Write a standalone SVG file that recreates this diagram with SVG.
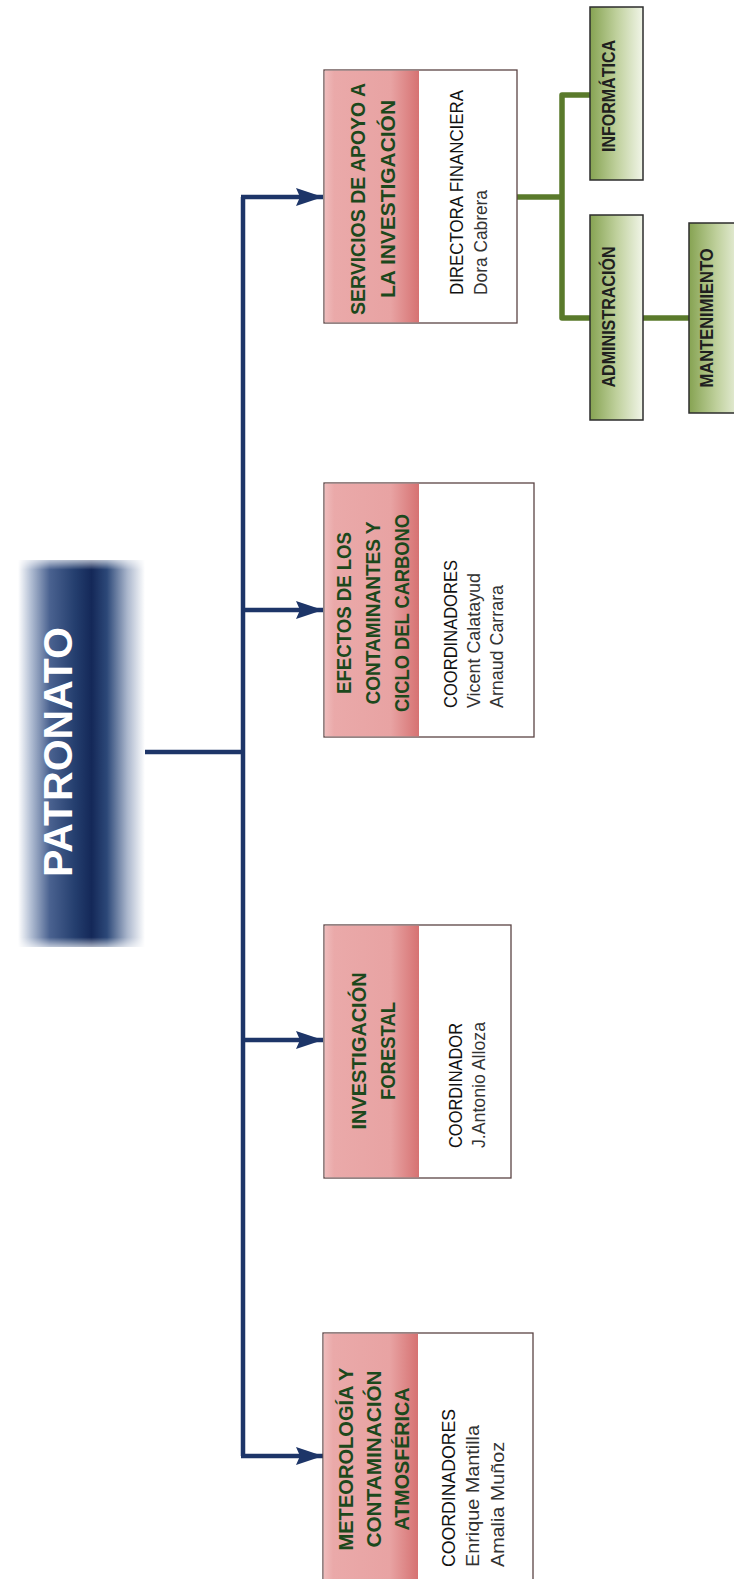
<svg xmlns="http://www.w3.org/2000/svg" width="734" height="1579" viewBox="0 0 734 1579">
<defs>
<linearGradient id="gPatr" x1="0" y1="0" x2="1" y2="0">
<stop offset="0" stop-color="#ffffff"/>
<stop offset="0.1" stop-color="#b3bfd4"/>
<stop offset="0.25" stop-color="#4a6290"/>
<stop offset="0.45" stop-color="#243e6e"/>
<stop offset="0.58" stop-color="#142858"/>
<stop offset="0.7" stop-color="#2c4878"/>
<stop offset="0.86" stop-color="#aab6cc"/>
<stop offset="1" stop-color="#ffffff"/>
</linearGradient>
<linearGradient id="gPatrV" x1="0" y1="0" x2="0" y2="1">
<stop offset="0" stop-color="#fff" stop-opacity="0.35"/>
<stop offset="0.025" stop-color="#fff" stop-opacity="1"/>
<stop offset="0.975" stop-color="#fff" stop-opacity="1"/>
<stop offset="1" stop-color="#fff" stop-opacity="0.35"/>
</linearGradient>
<mask id="mPatr" maskContentUnits="objectBoundingBox">
<rect x="0" y="0" width="1" height="1" fill="url(#gPatrV)"/>
</mask>
<linearGradient id="gHead" x1="0" y1="0" x2="1" y2="0">
<stop offset="0" stop-color="#efbcbc"/>
<stop offset="0.1" stop-color="#eaa9a9"/>
<stop offset="0.7" stop-color="#e8a3a3"/>
<stop offset="1" stop-color="#d67272"/>
</linearGradient>
<linearGradient id="gGreen" x1="0" y1="0" x2="1" y2="0">
<stop offset="0" stop-color="#86a352"/>
<stop offset="0.5" stop-color="#bfd09c"/>
<stop offset="1" stop-color="#f1f5e8"/>
</linearGradient>
<marker id="arr" markerUnits="userSpaceOnUse" markerWidth="28" markerHeight="18" refX="27" refY="9" orient="auto">
<path d="M0,0 L27,9 L0,18 L4,9 Z" fill="#1d3568"/>
</marker>
<style>
.nav{fill:none;stroke:#1d3568;stroke-width:4.5}
.grn{fill:none;stroke:#5a7a2b;stroke-width:5.5;stroke-linejoin:round}
.box{fill:#ffffff;stroke:#5b4444;stroke-width:1.3}
.head{fill:url(#gHead)}
.gbox{fill:url(#gGreen);stroke:#2d2d2d;stroke-width:1.5}
.ht{font-family:"Liberation Sans",Arial,sans-serif;font-weight:bold;font-size:21px;fill:#1c481c;text-anchor:middle}
.wt{font-family:"Liberation Sans",Arial,sans-serif;font-size:18px;fill:#111111;text-anchor:start}
.nm{fill:#333333}
.gt{font-family:"Liberation Sans",Arial,sans-serif;font-weight:bold;font-size:19px;fill:#1f1f1f;text-anchor:middle}
.pt{font-family:"Liberation Sans",Arial,sans-serif;font-weight:bold;font-size:40px;fill:#ffffff;text-anchor:middle}
</style>
</defs>
<rect width="734" height="1579" fill="#ffffff"/>

<g id="connectors">
<path class="nav" d="M145,752 H243"/>
<path class="nav" d="M243,197 V1456"/>
<path class="nav" d="M241,197 H323" marker-end="url(#arr)"/>
<path class="nav" d="M243,610 H323" marker-end="url(#arr)"/>
<path class="nav" d="M243,1040 H323" marker-end="url(#arr)"/>
<path class="nav" d="M241,1456 H323" marker-end="url(#arr)"/>
<path class="grn" d="M517,197 H562"/>
<path class="grn" d="M590,95 H562 V318 H590"/>
<path class="grn" d="M643,318 H689"/>
</g>

<g id="patronato">
<rect x="18" y="560" width="127" height="387" fill="url(#gPatr)" mask="url(#mPatr)"/>
<text class="pt" transform="translate(72,752) rotate(-90)" textLength="250" lengthAdjust="spacingAndGlyphs">PATRONATO</text>
</g>

<g id="servicios">
<rect class="box" x="324" y="70" width="193" height="253"/>
<rect class="head" x="324.7" y="70.7" width="94.3" height="251.6"/>
<text class="ht" transform="translate(365,199) rotate(-90)" textLength="232" lengthAdjust="spacingAndGlyphs">SERVICIOS DE APOYO A</text>
<text class="ht" transform="translate(395,199) rotate(-90)" textLength="198" lengthAdjust="spacingAndGlyphs">LA INVESTIGACIÓN</text>
<text class="wt" transform="translate(463,295) rotate(-90)" textLength="205" lengthAdjust="spacingAndGlyphs">DIRECTORA FINANCIERA</text>
<text class="wt nm" transform="translate(487,295) rotate(-90)" textLength="105" lengthAdjust="spacingAndGlyphs">Dora Cabrera</text>
</g>

<g id="efectos">
<rect class="box" x="324" y="483" width="210" height="254"/>
<rect class="head" x="324.7" y="483.7" width="94.3" height="252.6"/>
<text class="ht" transform="translate(351,613) rotate(-90)" textLength="162" lengthAdjust="spacingAndGlyphs">EFECTOS DE LOS</text>
<text class="ht" transform="translate(380,613) rotate(-90)" textLength="183" lengthAdjust="spacingAndGlyphs">CONTAMINANTES Y</text>
<text class="ht" transform="translate(409,613) rotate(-90)" textLength="198" lengthAdjust="spacingAndGlyphs">CICLO DEL CARBONO</text>
<text class="wt" transform="translate(457,708) rotate(-90)" textLength="148" lengthAdjust="spacingAndGlyphs">COORDINADORES</text>
<text class="wt nm" transform="translate(480,708) rotate(-90)" textLength="135" lengthAdjust="spacingAndGlyphs">Vicent Calatayud</text>
<text class="wt nm" transform="translate(503,708) rotate(-90)" textLength="123" lengthAdjust="spacingAndGlyphs">Arnaud Carrara</text>
</g>

<g id="investigacion">
<rect class="box" x="324" y="925" width="187" height="253"/>
<rect class="head" x="324.7" y="925.7" width="94.3" height="251.6"/>
<text class="ht" transform="translate(366,1051) rotate(-90)" textLength="157" lengthAdjust="spacingAndGlyphs">INVESTIGACIÓN</text>
<text class="ht" transform="translate(395,1051) rotate(-90)" textLength="98" lengthAdjust="spacingAndGlyphs">FORESTAL</text>
<text class="wt" transform="translate(462,1148) rotate(-90)" textLength="125" lengthAdjust="spacingAndGlyphs">COORDINADOR</text>
<text class="wt nm" transform="translate(485,1148) rotate(-90)" textLength="126" lengthAdjust="spacingAndGlyphs">J.Antonio Alloza</text>
</g>

<g id="meteorologia">
<rect class="box" x="323" y="1333" width="210" height="260"/>
<rect class="head" x="323.7" y="1333.7" width="94.3" height="258"/>
<text class="ht" transform="translate(353,1459) rotate(-90)" textLength="183" lengthAdjust="spacingAndGlyphs">METEOROLOGÍA Y</text>
<text class="ht" transform="translate(381,1459) rotate(-90)" textLength="177" lengthAdjust="spacingAndGlyphs">CONTAMINACIÓN</text>
<text class="ht" transform="translate(409,1459) rotate(-90)" textLength="143" lengthAdjust="spacingAndGlyphs">ATMOSFÉRICA</text>
<text class="wt" transform="translate(455,1567) rotate(-90)" textLength="158" lengthAdjust="spacingAndGlyphs">COORDINADORES</text>
<text class="wt nm" transform="translate(479,1567) rotate(-90)" textLength="142" lengthAdjust="spacingAndGlyphs">Enrique Mantilla</text>
<text class="wt nm" transform="translate(504,1567) rotate(-90)" textLength="125" lengthAdjust="spacingAndGlyphs">Amalia Muñoz</text>
</g>

<g id="informatica">
<rect class="gbox" x="590" y="7" width="53" height="173"/>
<text class="gt" transform="translate(615,96) rotate(-90)" textLength="112" lengthAdjust="spacingAndGlyphs">INFORMÁTICA</text>
</g>

<g id="administracion">
<rect class="gbox" x="590" y="215" width="53" height="205"/>
<text class="gt" transform="translate(615,317) rotate(-90)" textLength="141" lengthAdjust="spacingAndGlyphs">ADMINISTRACIÓN</text>
</g>

<g id="mantenimiento">
<rect class="gbox" x="689" y="223" width="55" height="190"/>
<text class="gt" transform="translate(713,318) rotate(-90)" textLength="139" lengthAdjust="spacingAndGlyphs">MANTENIMIENTO</text>
</g>
</svg>
